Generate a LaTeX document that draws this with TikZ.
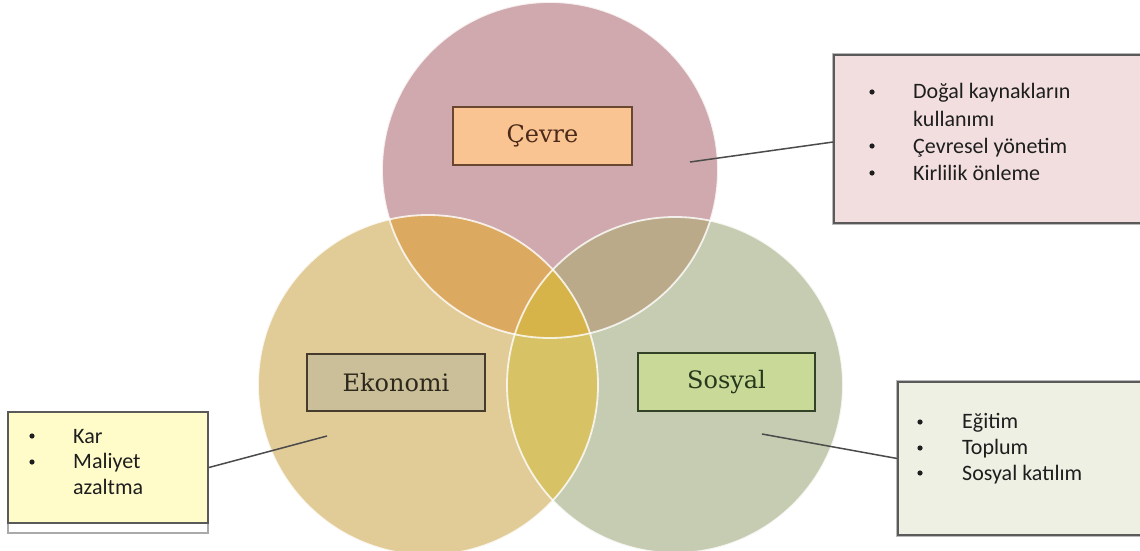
\documentclass[tikz,border=0pt]{standalone}
\usepackage{fontspec}
\newfontfamily\listfont{Carlito}
\newfontfamily\tagfont{DejaVu Serif}
\begin{document}
\begin{tikzpicture}[x=1pt,y=-1pt,
  % circle fills and overlaps
  fillT/.style={fill={rgb,255:red,207;green,169;blue,173}},
  fillL/.style={fill={rgb,255:red,225;green,204;blue,152}},
  fillR/.style={fill={rgb,255:red,197;green,204;blue,177}},
  fillTL/.style={fill={rgb,255:red,220;green,169;blue,97}},
  fillTR/.style={fill={rgb,255:red,186;green,170;blue,137}},
  fillLR/.style={fill={rgb,255:red,215;green,194;blue,102}},
  fillC/.style={fill={rgb,255:red,214;green,180;blue,74}},
  rim/.style={draw=white, draw opacity=0.8, line width=1.8pt},
  % title boxes inside the circles
  tag/.style={draw, line width=1.6pt, inner sep=0pt, font=\tagfont\fontsize{24}{28}\selectfont},
  % bullet-list boxes
  listbox/.style={draw={rgb,255:red,90;green,90;blue,90}, line width=1.8pt, inner sep=0pt},
  boxhalo/.style={draw={rgb,255:red,185;green,185;blue,185}, line width=4pt},
  item/.style={anchor=base west, inner sep=0pt, font=\listfont\fontsize{22}{27}\selectfont,
               text={rgb,255:red,30;green,30;blue,30}},
  bulletdot/.style={fill={rgb,255:red,30;green,30;blue,30}},
  conn/.style={draw={rgb,255:red,75;green,75;blue,75}, line width=1.5pt}]
\useasboundingbox (0,0) rectangle (1140,551);
\fill[white] (0,0) rectangle (1140,551);

% centres of the three circles
\coordinate (cT) at (550,170);
\coordinate (cL) at (428,385);
\coordinate (cR) at (675,385);

% base discs
\fill[fillT] (cT) circle (168pt);
\fill[fillL] (cL) circle (170pt);
\fill[fillR] (cR) circle (168pt);

% pairwise overlaps
\begin{scope}
  \clip (cT) circle (168pt);
  \fill[fillTL] (cL) circle (170pt);
  \fill[fillTR] (cR) circle (168pt);
\end{scope}
\begin{scope}
  \clip (cL) circle (170pt);
  \fill[fillLR] (cR) circle (168pt);
  \clip (cT) circle (168pt);
  \fill[fillC] (cR) circle (168pt);
\end{scope}

% circle rims
\draw[rim] (cT) circle (168pt);
\draw[rim] (cL) circle (170pt);
\draw[rim] (cR) circle (168pt);

% titles
\node[tag, minimum width=179pt, minimum height=58pt,
      fill={rgb,255:red,250;green,196;blue,146}, draw={rgb,255:red,105;green,70;blue,48},
      text={rgb,255:red,75;green,42;blue,25}] (cevre) at (542.5,136) {Çevre};
\node[tag, minimum width=178pt, minimum height=57pt,
      fill={rgb,255:red,202;green,191;blue,152}, draw={rgb,255:red,70;green,60;blue,45},
      text={rgb,255:red,45;green,40;blue,28}] (ekonomi) at (396,382.5) {Ekonomi};
\node[tag, minimum width=177pt, minimum height=58pt,
      fill={rgb,255:red,200;green,217;blue,152}, draw={rgb,255:red,52;green,66;blue,40},
      text={rgb,255:red,40;green,56;blue,28}] (sosyal) at (726.5,382) {Sosyal};

% list boxes
\node[boxhalo, minimum width=308pt, minimum height=168pt] at (988,139) {};
\node[listbox, minimum width=308pt, minimum height=168pt,
      fill={rgb,255:red,242;green,222;blue,222}] (tbox) at (988,139) {};

\node[draw={rgb,255:red,170;green,170;blue,170}, line width=1.5pt, fill=white,
      minimum width=200pt, minimum height=121pt, inner sep=0pt] (lshade) at (108,472.5) {};
\node[listbox, minimum width=200pt, minimum height=111pt,
      fill={rgb,255:red,255;green,252;blue,202}] (lbox) at (108,467.5) {};

\node[boxhalo, minimum width=244pt, minimum height=153pt] at (1020,458.5) {};
\node[listbox, minimum width=244pt, minimum height=153pt,
      fill={rgb,255:red,237;green,240;blue,226}] (rbox) at (1020,458.5) {};

% list entries: environment
\fill[bulletdot] (872,92) circle (2.6pt);
\fill[bulletdot] (872,146) circle (2.6pt);
\fill[bulletdot] (872,173) circle (2.6pt);
\node[item] (t1) at (913,99) {Doğal kaynakların};
\node[item] (t2) at (913,126) {kullanımı};
\node[item] (t3) at (913,153) {Çevresel yönetim};
\node[item] (t4) at (913,180) {Kirlilik önleme};

% list entries: economy
\fill[bulletdot] (32,436) circle (2.6pt);
\fill[bulletdot] (32,462) circle (2.6pt);
\node[item] (l1) at (73,443) {Kar};
\node[item] (l2) at (73,468) {Maliyet};
\node[item] (l3) at (73,494) {azaltma};

% list entries: society
\fill[bulletdot] (920,422) circle (2.6pt);
\fill[bulletdot] (920,448) circle (2.6pt);
\fill[bulletdot] (920,473) circle (2.6pt);
\node[item] (r1) at (962,428) {Eğitim};
\node[item] (r2) at (962,454) {Toplum};
\node[item] (r3) at (962,480) {Sosyal katılım};

% connectors from circles to their lists
\coordinate (pT) at (690,162);
\coordinate (pL) at (327,436);
\coordinate (pR) at (762,434);
\draw[conn] (pT) -- ([yshift=-3pt]tbox.west);
\draw[conn] (lbox.east) -- (pL);
\draw[conn] (pR) -- (rbox.west);
\end{tikzpicture}
\end{document}
